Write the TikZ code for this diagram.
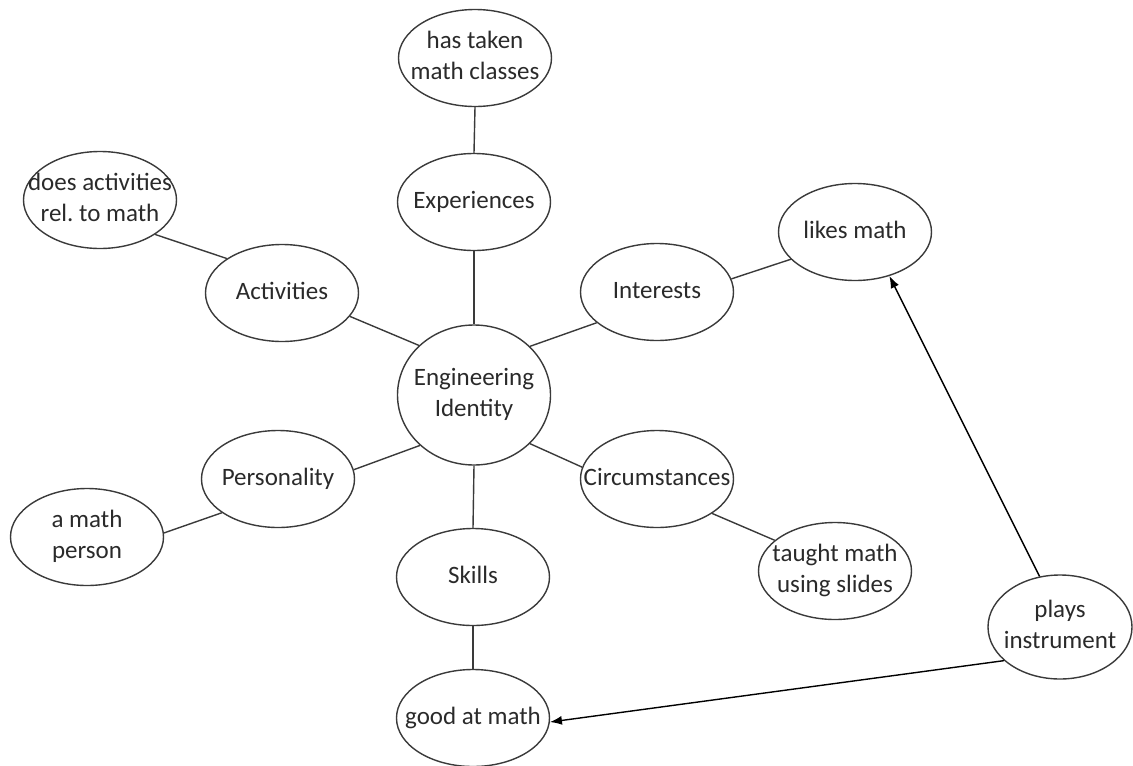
\documentclass[tikz,border=0pt]{standalone}
\usepackage{fontspec}
\setmainfont{Carlito}
\frenchspacing
\usetikzlibrary{shapes.geometric,arrows.meta}
\definecolor{ink}{HTML}{3A3A3A}
\definecolor{txt}{HTML}{2A2A2A}
% zero-width centred text block, so the ellipse keeps its set size
\newcommand\bubtext[1]{\makebox[0pt]{\begin{tabular}{@{}c@{}}#1\end{tabular}}}
\begin{document}
\begin{tikzpicture}[x=1pt,y=-1pt,
  bub/.style={ellipse,draw=ink,line width=1.4pt,inner sep=0pt,
    minimum width=153pt,minimum height=97pt,text=txt,
    font=\fontsize{25}{31}\selectfont},
  link/.style={draw=ink,line width=1.4pt},
  arr/.style={draw=black,line width=1.4pt,-{Latex[length=12pt,width=9pt]}}]
\useasboundingbox (0,0) rectangle (1133,766);

% nodes
\node[bub] (htm) at (475,58)  {\bubtext{has taken\\math classes}};
\node[bub] (exp) at (474,202) {\bubtext{Experiences}};
\node[bub] (dar) at (100,200) {\bubtext{does activities\\rel. to math}};
\node[bub] (act) at (282,293) {\bubtext{Activities}};
\node[bub,minimum width=153pt,minimum height=140pt] (ei) at (474,395) {\bubtext{Engineering\\Identity}};
\node[bub] (int) at (657,292) {\bubtext{Interests}};
\node[bub] (lm)  at (855,232) {\bubtext{likes math}};
\node[bub] (per) at (278,479) {\bubtext{Personality}};
\node[bub] (amp) at (87,537)  {\bubtext{a math\\person}};
\node[bub] (cir) at (657,479) {\bubtext{Circumstances}};
\node[bub] (tms) at (835,571) {\bubtext{taught math\\using slides}};
\node[bub] (sk)  at (473,577) {\bubtext{Skills}};
\node[bub] (gam) at (473,718) {\bubtext{good at math}};
\node[bub,minimum width=144pt,minimum height=104pt] (pi) at (1060,627) {\bubtext{plays\\instrument}};

% undirected links
\draw[link] (htm.south) -- (exp.north);
\draw[link] (exp.south) -- (ei.north);
\draw[link] (act.-19) -- (ei.138);
\draw[link] (dar.-32) -- (act.148);
\draw[link] (ei.41) -- (int.-153);
\draw[link] (int.10) -- (lm.203);
\draw[link] (ei.-137) -- (per.7);
\draw[link] (per.211) -- (amp.3);
\draw[link] (ei.-41) -- (cir.171);
\draw[link] (cir.-32) -- (tms.153);
\draw[link] (ei.south) -- (sk.north);
\draw[link] (sk.south) -- (gam.north);

% directed links
\draw[arr] (pi.112) -- (lm.-52);
\draw[arr] (pi.211) -- (gam.-3);
\end{tikzpicture}
\end{document}
